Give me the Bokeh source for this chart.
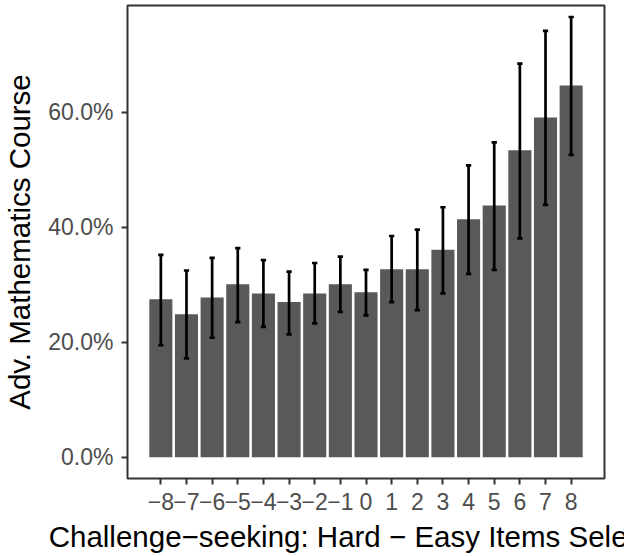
from bokeh.plotting import figure
from bokeh.models import ColumnDataSource, FixedTicker, NumeralTickFormatter, Range1d
from bokeh.embed import file_html
from bokeh.resources import INLINE

# data
diff = [-8, -7, -6, -5, -4, -3, -2, -1, 0, 1, 2, 3, 4, 5, 6, 7, 8]
pct = [27.5, 24.9, 27.8, 30.1, 28.5, 27.0, 28.5, 30.1, 28.7, 32.7, 32.7, 36.1, 41.4, 43.8, 53.4, 59.1, 64.7]
lower = [19.5, 17.2, 20.8, 23.5, 22.7, 21.4, 23.3, 25.3, 24.7, 27.0, 25.6, 28.5, 31.9, 32.6, 38.1, 43.9, 52.6]
upper = [35.2, 32.5, 34.7, 36.4, 34.3, 32.3, 33.8, 34.9, 32.6, 38.5, 39.6, 43.5, 50.8, 54.8, 68.5, 74.2, 76.6]
y_ticks = [0.0, 0.2, 0.4, 0.6]
x_label = "Challenge\u2212seeking: Hard \u2212 Easy Items Selected"
y_label = "Adv. Mathematics Course"

src = ColumnDataSource(dict(
    x=diff,
    y=[v / 100 for v in pct],
    lo=[v / 100 for v in lower],
    hi=[v / 100 for v in upper],
    xl=[d - 0.05 for d in diff],
    xr=[d + 0.05 for d in diff],
))

p = figure(width=624, height=556, output_backend="svg", toolbar_location=None,
           x_range=Range1d(-9.3, 9.3), y_range=Range1d(-0.0369, 0.786),
           min_border_left=127, min_border_right=20, min_border_top=5, min_border_bottom=78)

p.vbar(x="x", top="y", bottom=0, width=0.9, source=src, fill_color="#595959", line_color=None)
p.segment(x0="x", y0="lo", x1="x", y1="hi", source=src, line_color="black", line_width=2.7)
p.segment(x0="xl", y0="hi", x1="xr", y1="hi", source=src, line_color="black", line_width=2.7, line_cap="square")
p.segment(x0="xl", y0="lo", x1="xr", y1="lo", source=src, line_color="black", line_width=2.7, line_cap="square")

p.xgrid.visible = False
p.ygrid.visible = False
p.outline_line_color = "#333333"
p.outline_line_width = 2
p.background_fill_color = "white"
p.border_fill_color = "white"

p.xaxis.ticker = FixedTicker(ticks=diff)
p.xaxis.major_label_overrides = {d: (("\u2212" + str(-d)) if d < 0 else str(d)) for d in diff}
p.yaxis.ticker = FixedTicker(ticks=y_ticks)
p.yaxis.formatter = NumeralTickFormatter(format="0.0%")
p.xaxis.axis_label = x_label
p.yaxis.axis_label = y_label

for ax in (p.xaxis, p.yaxis):
    ax.axis_line_color = None
    ax.minor_tick_line_color = None
    ax.major_tick_line_color = "#333333"
    ax.major_tick_line_width = 2
    ax.major_tick_out = 6
    ax.major_tick_in = 0
    ax.major_label_text_font = "Liberation Sans"
    ax.major_label_text_font_size = "23px"
    ax.major_label_text_color = "#4D4D4D"
    ax.axis_label_text_font = "Liberation Sans"
    ax.axis_label_text_font_size = "29.5px"
    ax.axis_label_text_font_style = "normal"
    ax.axis_label_text_color = "black"

p.yaxis.major_label_standoff = 8
p.yaxis.axis_label_standoff = 9
p.xaxis.major_label_standoff = 8
p.xaxis.axis_label_standoff = 7

open("out.html", "w").write(file_html(p, INLINE))
